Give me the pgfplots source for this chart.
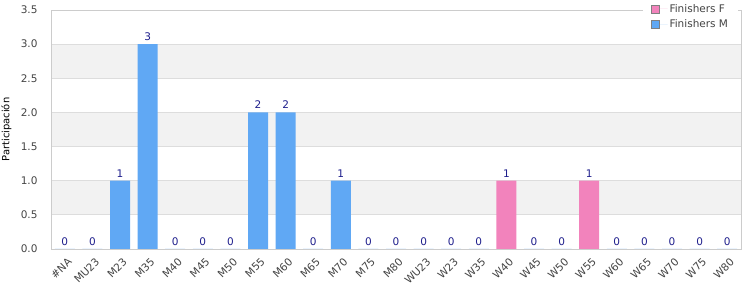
\documentclass[border=0pt]{standalone}
\usepackage{pgfplots}
\pgfplotsset{compat=1.18}
\usepackage{fontspec}
\setmainfont{DejaVu Sans}
\definecolor{barM}{RGB}{96,168,244}
\definecolor{barF}{RGB}{242,131,188}
\definecolor{lbl}{RGB}{30,30,140}
\definecolor{txt}{RGB}{68,68,68}
\definecolor{band}{RGB}{242,242,242}
\definecolor{gridc}{RGB}{221,221,221}
\definecolor{frame}{RGB}{204,204,204}
\begin{document}
\begin{tikzpicture}
\begin{axis}[
  set layers,
  at={(51bp,51bp)}, anchor=south west,
  scale only axis, width=690bp, height=239bp,
  xmin=-0.5, xmax=24.5, ymin=0, ymax=3.5,
  ytick={0,0.5,1,1.5,2,2.5,3,3.5},
  yticklabel style={/pgf/number format/fixed, /pgf/number format/fixed zerofill, /pgf/number format/precision=1, font=\fontsize{10.5bp}{12bp}\selectfont, color=txt, xshift=-10bp},
  /pgf/number format/assume math mode=true,
  xtick={0,...,24},
  xticklabels={\#NA,MU23,M23,M35,M40,M45,M50,M55,M60,M65,M70,M75,M80,WU23,W23,W35,W40,W45,W50,W55,W60,W65,W70,W75,W80},
  xticklabel style={rotate=45, anchor=north east, font=\fontsize{10.5bp}{12bp}\selectfont, color=txt, inner sep=1bp, xshift=-3bp, yshift=-6bp},
  major tick length=0pt,
  ymajorgrids, grid style={color=gridc, line width=0.8bp},
  axis line style={draw=frame, line width=0.8bp},
  ylabel={Participación},
  ylabel style={font=\fontsize{10.5bp}{12bp}\selectfont, color=txt},
  every axis y label/.style={rotate=90, anchor=north, at={(rel axis cs:0,0.5)}, yshift=53bp},
  legend style={at={(rel axis cs:0.858,1.042)}, anchor=north west, draw=none, fill=white, font=\fontsize{10.5bp}{12bp}\selectfont, text=txt, row sep=2bp, inner xsep=8bp, inner ysep=2bp},
  legend cell align=left,
  ybar legend/.style={legend image code/.code={\draw[##1, draw=gray, line width=0.6bp] (0bp,-4bp) rectangle (8bp,4bp); \path (0bp,0bp) -- (16bp,0bp);}},
  ybar, bar width=20bp, bar shift=0pt,
  nodes near coords,
  nodes near coords style={font=\fontsize{10.5bp}{12bp}\selectfont, color=lbl, /pgf/number format/assume math mode=true},
  clip=false,
]
\begin{pgfonlayer}{axis background}
\fill[band] (axis cs:-0.5,0.5) rectangle (axis cs:24.5,1.0);
\fill[band] (axis cs:-0.5,1.5) rectangle (axis cs:24.5,2.0);
\fill[band] (axis cs:-0.5,2.5) rectangle (axis cs:24.5,3.0);
\end{pgfonlayer}
\addplot[fill=barF, draw=none] coordinates {(16,1) (19,1)};
\addlegendentry{Finishers F}
\addplot[fill=barM, draw=none] coordinates {(0,0) (1,0) (2,1) (3,3) (4,0) (5,0) (6,0) (7,2) (8,2) (9,0) (10,1) (11,0) (12,0) (13,0) (14,0) (15,0) (17,0) (18,0) (20,0) (21,0) (22,0) (23,0) (24,0)};
\addlegendentry{Finishers M}
\end{axis}
\pgfresetboundingbox
\useasboundingbox (0,0) rectangle (750bp,300bp);
\end{tikzpicture}
\end{document}
